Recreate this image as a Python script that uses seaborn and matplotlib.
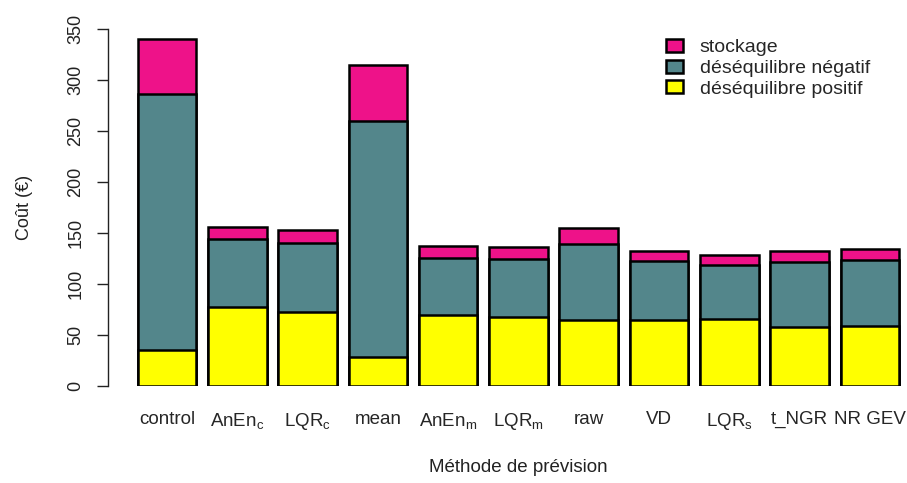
import pandas as pd
import seaborn as sns
import matplotlib.pyplot as plt
from matplotlib.patches import Patch

# Data (cost in euros per forecast method)
methods = ["control", "AnEn$_{\\mathrm{c}}$", "LQR$_{\\mathrm{c}}$", "mean", "AnEn$_{\\mathrm{m}}$",
           "LQR$_{\\mathrm{m}}$", "raw", "VD", "LQR$_{\\mathrm{s}}$", "t_NGR", "NR GEV"]
desequilibre_positif = [34.6, 76.8, 72.5, 28.4, 69.5, 67.0, 64.4, 64.4, 65.7, 57.2, 58.5]
desequilibre_negatif = [251.4, 67.2, 67.5, 231.6, 56.0, 57.0, 74.6, 58.1, 52.6, 64.4, 64.7]
stockage = [54.0, 12.0, 12.6, 54.0, 11.0, 11.6, 16.0, 9.5, 9.7, 10.4, 10.5]

labels = ["stockage", "déséquilibre négatif", "déséquilibre positif"]
colors = ["#EE1289", "#53868B", "#FFFF00"]

df = pd.DataFrame({
    "methode": methods,
    "positif": desequilibre_positif,
    "negatif": desequilibre_negatif,
    "stockage": stockage,
})
df["cum_neg"] = df["positif"] + df["negatif"]
df["cum_stock"] = df["cum_neg"] + df["stockage"]

sns.set_style("ticks")
plt.rcParams["font.family"] = ["Liberation Sans", "DejaVu Sans"]
plt.rcParams["mathtext.fontset"] = "custom"
plt.rcParams["mathtext.rm"] = "Liberation Sans"
plt.rcParams["mathtext.it"] = "Liberation Sans:italic"

fig = plt.figure(figsize=(9.07, 4.83), dpi=100)
ax = fig.add_axes([108 / 907, 97.3 / 483, 799 / 907, 357 / 483])

# stacked bars drawn as overlapping cumulative totals
for col, c in zip(["cum_stock", "cum_neg", "positif"], colors):
    sns.barplot(data=df, x="methode", y=col, color=c, width=0.833,
                edgecolor="black", linewidth=1.8, saturation=1, ax=ax)

ax.set_xlim(-0.839, 10.527)
ax.set_ylim(0, 350)
ax.set_yticks(range(0, 351, 50))
ax.tick_params(axis="y", labelrotation=90, length=8, width=1, pad=9, labelsize=13, colors="#222222")
for t in ax.get_yticklabels():
    t.set_va("center")
ax.tick_params(axis="x", length=0, pad=18, labelsize=13.5)

sns.despine(ax=ax, bottom=True)
ax.spines["left"].set_linewidth(1)
ax.spines["left"].set_color("#222222")

ax.set_xlabel("Méthode de prévision", fontsize=13.5, color="#222222")
ax.xaxis.set_label_coords(0.513, -0.23)
ax.xaxis.label.set_va("center")
ax.set_ylabel("Coût (€)", fontsize=13, color="#222222")
ax.yaxis.set_label_coords(-0.104, 0.5)
ax.yaxis.label.set_va("center")

handles = [Patch(facecolor=c, edgecolor="black", linewidth=1.8) for c in colors]
ax.legend(handles, labels, loc="upper left", bbox_to_anchor=(656 / 907, 1 - 29 / 483),
          bbox_transform=fig.transFigure, frameon=False, fontsize=14, borderpad=0,
          labelspacing=0.18, handlelength=0.9, handleheight=0.65, handletextpad=0.85)

plt.savefig("out.png", dpi=100)
